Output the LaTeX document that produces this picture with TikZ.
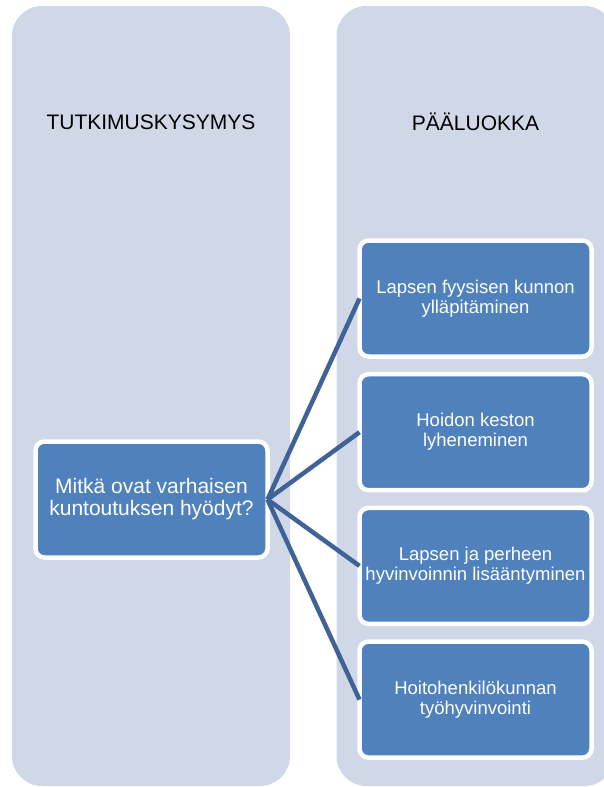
\documentclass[tikz,border=0pt]{standalone}
\usepackage{fontspec}
\setmainfont{Liberation Sans}
\usetikzlibrary{positioning}
\definecolor{panel}{HTML}{D0D8E8}
\definecolor{boxblue}{HTML}{4F81BD}
\definecolor{linkblue}{HTML}{3F6397}

\begin{document}
\begin{tikzpicture}[x=1pt, y=1pt,
    column/.style={fill=panel, rounded corners=30pt, minimum width=278pt,
                   minimum height=780pt, inner sep=0pt, outer sep=0pt},
    head/.style  ={font=\fontsize{21}{25}\selectfont},
    box/.style   ={draw=white, line width=4.5pt, fill=boxblue, rounded corners=9pt,
                   minimum width=232pt, minimum height=116pt, inner sep=0pt,
                   outer sep=0pt, align=center, text=white,
                   font=\fontsize{21}{22}\selectfont},
    cat/.style   ={box, font=\fontsize{18.5}{20}\selectfont},
    link/.style  ={draw=linkblue, line width=4.5pt},
]
\useasboundingbox (0,0) rectangle (604,-787);
\clip (0,0) rectangle (604,-787);
% the two columns
\node[column] (left)  at (151,-396) {};
\node[column] (right) at (475.5,-396) {};
\node[head] (qhead) at (151,-122) {TUTKIMUSKYSYMYS};
\node[head] (chead) at (475.5,-122) {PÄÄLUOKKA};
\node[box] (question) at (151.5,-499.5) {Mitkä ovat varhaisen\\kuntoutuksen hyödyt?};
\node[cat] (cat1) at (475.5,-298.5) {Lapsen fyysisen kunnon\\ylläpitäminen};
\node[cat, below=17.7pt of cat1] (cat2) {Hoidon keston\\lyheneminen};
\node[cat, below=17.7pt of cat2] (cat3) {Lapsen ja perheen\\hyvinvoinnin lisääntyminen};
\node[cat, below=17.7pt of cat3] (cat4) {Hoitohenkilökunnan\\työhyvinvointi};
\foreach \c in {cat1,cat2,cat3,cat4}
  \draw[link] (question.east) -- (\c.west);
\end{tikzpicture}
\end{document}
